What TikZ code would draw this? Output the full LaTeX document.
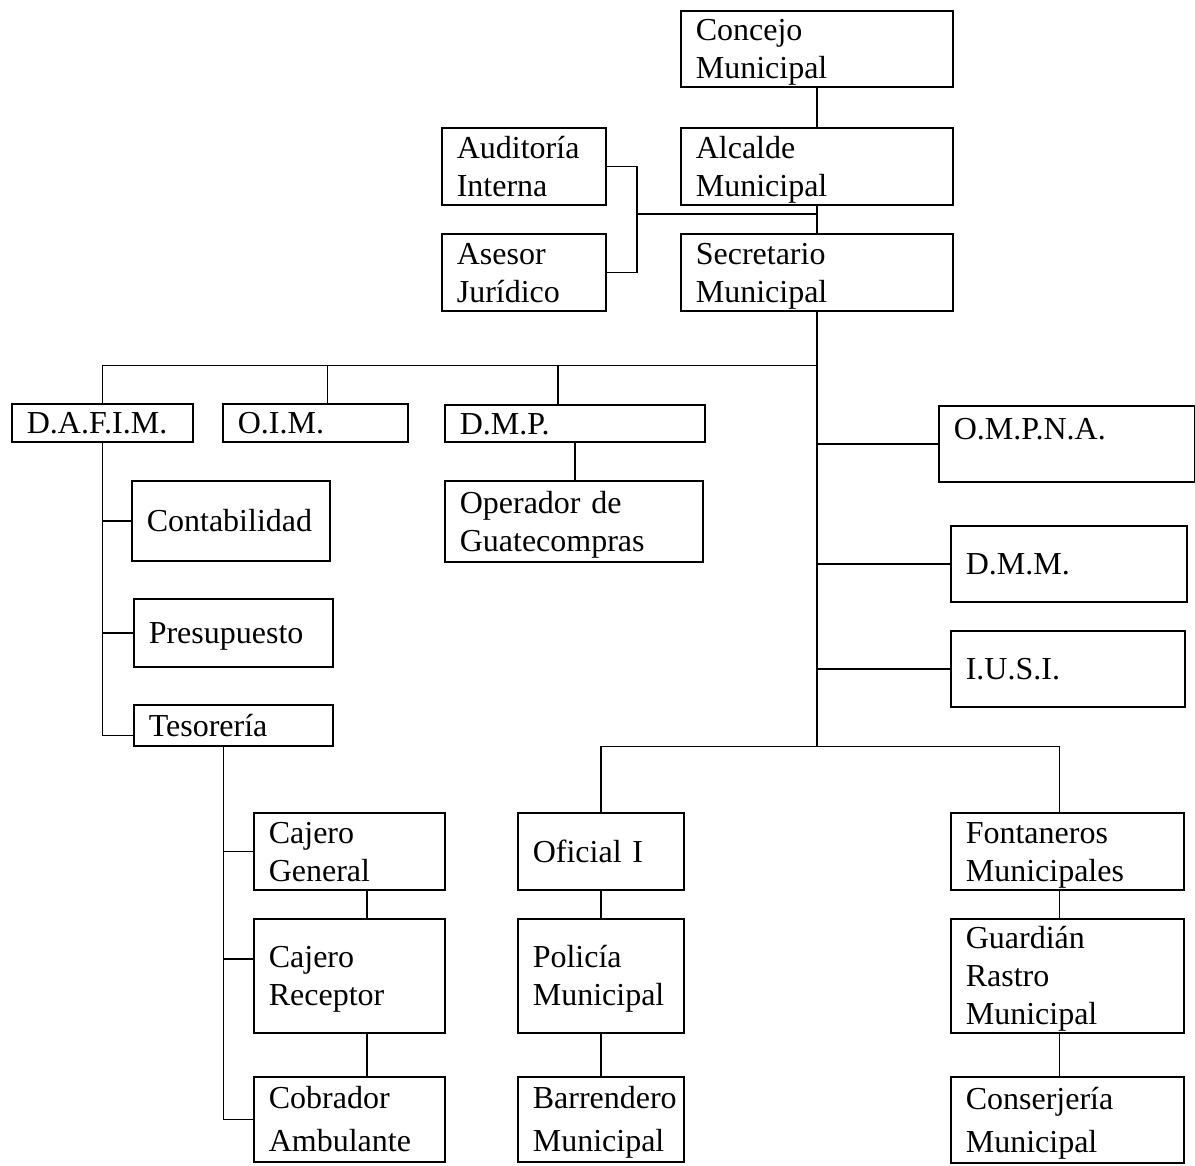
\documentclass[tikz,border=0pt]{standalone}
\usepackage{fontspec}
\setmainfont{Liberation Serif}
\usepackage{tikz}

\begin{document}
\begin{tikzpicture}[
    x=0.5pt, y=-0.5pt,
    unit/.style 2 args={draw, rectangle, anchor=north west, align=left, line width=0.8pt,
        inner xsep=7.5pt, inner ysep=0pt, minimum width=#1*0.5pt, minimum height=#2*0.5pt,
        text width=#1*0.5pt-15pt, text height=11pt, text depth=0pt},
    two/.style={text depth=19pt},
    three/.style={text depth=38pt},
    loose/.style={font=\fontsize{16}{21.5}\selectfont, text depth=21.5pt},
    link/.style={line width=0.7pt},
    every node/.append style={font=\fontsize{16}{19}\selectfont}
]
    \useasboundingbox (0,0) rectangle (1195,1166);

    % Direccion
    \node[unit={272}{76}, two] (concejo) at (680,10) {Concejo\\Municipal};
    \node[unit={272}{77}, two] (alcalde) at (680,127) {Alcalde\\Municipal};
    \node[unit={164}{77}, two] (auditoria) at (441,127) {Auditoría\\Interna};
    \node[unit={164}{77}, two] (asesor) at (441,233) {Asesor\\Jurídico};
    \node[unit={272}{77}, two] (secretario) at (680,233) {Secretario\\Municipal};

    % Dependencias
    \node[unit={181}{38}] (dafim) at (11,403) {D.A.F.I.M.};
    \node[unit={185}{38}] (oim) at (222,403) {O.I.M.};
    \node[unit={260}{37}] (dmp) at (444,404) {D.M.P.};
    \node[unit={258}{81}, two] (operador) at (444,480) {Operador de\\Guatecompras};
    \node[unit={256}{76}, text depth=15.6pt] (ompna) at (938,405) {O.M.P.N.A.};
    \node[unit={236}{76}] (dmm) at (950,525) {D.M.M.};
    \node[unit={234}{76}] (iusi) at (950,630) {I.U.S.I.};

    % D.A.F.I.M.
    \node[unit={198}{80}] (contabilidad) at (131,480) {Contabilidad};
    \node[unit={199}{68}] (presupuesto) at (133,598) {Presupuesto};
    \node[unit={199}{41}] (tesoreria) at (133,704) {Tesorería};
    \node[unit={191}{77}, two] (cajerog) at (253,812) {Cajero\\General};
    \node[unit={191}{114}, two] (cajeror) at (253,918) {Cajero\\Receptor};
    \node[unit={191}{85}, loose] (cobrador) at (253,1076) {Cobrador\\Ambulante};

    % Servicios
    \node[unit={166}{77}] (oficial) at (517,812) {Oficial I};
    \node[unit={166}{114}, two] (policia) at (517,918) {Policía\\Municipal};
    \node[unit={166}{85}, loose] (barrendero) at (517,1076) {Barrendero\\Municipal};
    \node[unit={233}{77}, two] (fontaneros) at (950,812) {Fontaneros\\Municipales};
    \node[unit={233}{114}, three] (guardian) at (950,918) {Guardián\\Rastro\\Municipal};
    \node[unit={233}{86}, loose] (conserjeria) at (950,1076) {Conserjería\\Municipal};

    % Lineas de mando
    \coordinate (staff) at (637,214);
    \draw[link] (concejo) -- (alcalde);
    \draw[link] (alcalde) -- (secretario);
    \draw[link] (auditoria.east) -| (staff) |- (asesor.east);
    \draw[link] (staff) -- (staff -| alcalde.south);
    \draw[link] (secretario.south) -- ++(0,435) coordinate (bus2);
    \path (secretario.south) ++(0,54) coordinate (bus1);

    \draw[link] (dafim.north) |- (bus1);
    \draw[link] ([xshift=6pt]oim.north) |- (bus1);
    \draw[link] ([xshift=-8.5pt]dmp.north) |- (bus1);
    \draw[link] (dmp.south) -- (dmp.south |- operador.north);
    \draw[link] (ompna.west) -- (ompna.west -| bus1);
    \draw[link] (dmm.west) -- (dmm.west -| bus1);
    \draw[link] (iusi.west) -- (iusi.west -| bus1);

    \draw[link] (dafim.south) |- ([yshift=-5pt]tesoreria.west);
    \draw[link] (contabilidad.west) -| (dafim.south);
    \draw[link] (presupuesto.west) -| (dafim.south);

    \coordinate (tes) at ([xshift=-5pt]tesoreria.south);
    \draw[link] (tes) |- (cobrador.west);
    \draw[link] (cajerog.west) -| (tes);
    \draw[link] ([yshift=8.5pt]cajeror.west) -| (tes);
    \draw[link] ([xshift=8.75pt]cajerog.south) -- ([xshift=8.75pt]cajeror.north);
    \draw[link] ([xshift=8.75pt]cajeror.south) -- ([xshift=8.75pt]cobrador.north);

    \draw[link] (oficial.north) |- (bus2) -| ([xshift=-4pt]fontaneros.north);
    \draw[link] (oficial) -- (policia);
    \draw[link] (policia) -- (barrendero);
    \draw[link] ([xshift=-4pt]fontaneros.south) -- ([xshift=-4pt]guardian.north);
    \draw[link] ([xshift=-4pt]guardian.south) -- ([xshift=-4pt]conserjeria.north);
\end{tikzpicture}
\end{document}
